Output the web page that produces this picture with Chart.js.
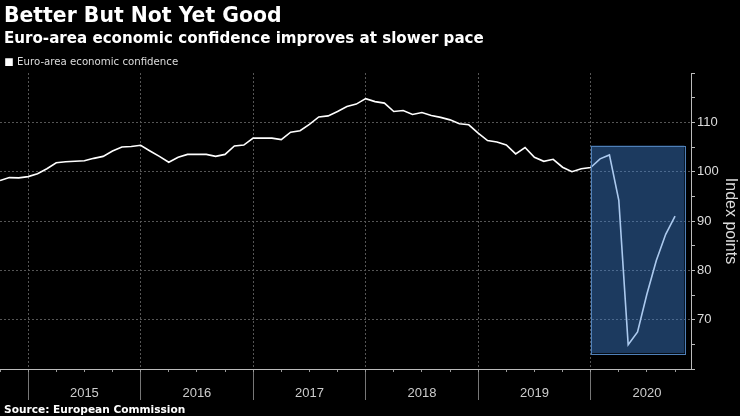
<!DOCTYPE html>
<html><head><meta charset="utf-8">
<script src="https://cdn.jsdelivr.net/npm/chart.js@4.4.1/dist/chart.umd.min.js"></script>
<style>
html,body{margin:0;padding:0;background:#000;width:740px;height:416px;overflow:hidden;}
#wrap{position:relative;width:740px;height:416px;}
#c{position:absolute;left:0;top:0;}
.t{position:absolute;left:4px;color:#fff;font-family:"DejaVu Sans";font-weight:bold;white-space:nowrap;line-height:normal;}
#title{top:3.4px;font-size:20.4px;}
#sub{top:28.7px;font-size:15.1px;}
#src{top:402.5px;font-size:10.6px;color:#fff;}
</style></head>
<body><div id="wrap"><canvas id="c" width="740" height="416"></canvas>
<div class="t" id="title">Better But Not Yet Good</div>
<div class="t" id="sub">Euro-area economic confidence improves at slower pace</div>
<div class="t" id="src">Source: European Commission</div></div>
<script>
// ---- data (monthly, Sep 2014 .. Sep 2020) ----
const startYear = 2014, startMonth = 9;
const confidence = [
  98.2, 98.8, 98.75, 99.0, 99.6, 100.6, 101.8, 102.0, 102.1, 102.2, 102.7, 103.1,
  104.2, 105.0, 105.1, 105.35, 104.2, 103.1, 101.9, 102.9, 103.5, 103.5, 103.5, 103.1,
  103.5, 105.2, 105.4, 106.8, 106.8, 106.8, 106.5, 108.0, 108.3, 109.6, 111.1, 111.3,
  112.2, 113.2, 113.7, 114.8, 114.2, 113.9, 112.2, 112.4, 111.6, 112.0, 111.4, 111.0,
  110.5, 109.7, 109.5, 107.8, 106.3, 106.0, 105.4, 103.6, 104.9, 102.9, 102.1, 102.5,
  100.9, 100.0, 100.6, 100.85, 102.6, 103.4, 94.2, 64.9, 67.5, 75.2, 82.0, 87.3, 91.0
];
const months = [];
for (let i = 0; i < confidence.length; i++) {
  const m = (startMonth - 1 + i) % 12 + 1;
  const y = startYear + Math.floor((startMonth - 1 + i) / 12);
  months.push(y + '-' + String(m).padStart(2, '0'));
}
const yearLabels = ['2015', '2016', '2017', '2018', '2019', '2020'];
const yearStartIdx = [3, 15, 27, 39, 51, 63];   // month index where each year begins
const yearMidIdx = [9, 21, 33, 45, 57, 69];     // label position (mid-year)
const quarterIdx = [0,3,6,9,12,15,18,21,24,27,30,33,36,39,42,45,48,51,54,57,60,63,66,69,72];
const yTickValues = [60,65,70,75,80,85,90,95,100,105,110,115,120];
const yLabelValues = [70, 80, 90, 100, 110];
const xRange = [0, 73.7];
const yRange = [60, 120];
const highlightX = [63, 73];
const highlightY = [63.2, 105.3];

const points = confidence.map((v, i) => ({x: i, y: v, label: months[i]}));

const highlightPlugin = {
  id: 'highlight',
  afterDatasetsDraw(chart) {
    const {ctx, scales: {x, y}} = chart;
    const x0 = x.getPixelForValue(highlightX[0]), x1 = x.getPixelForValue(highlightX[1]);
    const y0 = y.getPixelForValue(highlightY[1]), y1 = y.getPixelForValue(highlightY[0]);
    ctx.save();
    ctx.fillStyle = 'rgba(64,132,216,0.44)';
    ctx.fillRect(x0, y0, x1 - x0, y1 - y0);
    ctx.strokeStyle = '#4f80b8';
    ctx.lineWidth = 1;
    ctx.strokeRect(Math.round(x0) + 0.5, Math.round(y0) + 0.5, Math.round(x1 - x0), Math.round(y1 - y0));
    ctx.restore();
  }
};

const tickFont = {family: 'Liberation Sans', size: 13};

new Chart(document.getElementById('c'), {
  type: 'line',
  data: {
    datasets: [{
      label: 'Euro-area economic confidence',
      data: points,
      borderColor: '#ffffff',
      backgroundColor: '#ffffff',
      borderWidth: 1.6,
      pointRadius: 0,
      tension: 0,
      xAxisID: 'x',
      yAxisID: 'y'
    }]
  },
  options: {
    responsive: false,
    animation: false,
    devicePixelRatio: 1,
    layout: {padding: {top: 51, left: 0, right: 0, bottom: 0}, autoPadding: false},
    plugins: {
      legend: {
        display: true, position: 'top', align: 'start', maxHeight: 22,
        labels: {boxWidth: 6, boxHeight: 6, padding: 6, color: '#dddddd',
                 font: {family: 'DejaVu Sans', size: 10.2}}
      },
      tooltip: {enabled: false}
    },
    scales: {
      xYear: {
        type: 'linear', position: 'bottom', weight: 0,
        min: xRange[0], max: xRange[1],
        afterBuildTicks: s => { s.ticks = yearStartIdx.map(v => ({value: v})); },
        ticks: {display: false, padding: 0},
        grid: {drawOnChartArea: true, color: '#555555', lineWidth: 1, drawTicks: true,
               tickLength: 31, tickColor: '#777777', tickWidth: 1},
        border: {display: false, dash: [2, 2]},
        afterFit: s => { s.height = 0; }
      },
      x: {
        type: 'linear', position: 'bottom', weight: 1,
        min: xRange[0], max: xRange[1],
        afterBuildTicks: s => { s.ticks = quarterIdx.map(v => ({value: v})); },
        ticks: {
          autoSkip: false, maxRotation: 0, color: '#cccccc', padding: 0,
          font: {family: 'Liberation Sans', size: 13, lineHeight: '43px'},
          callback: v => { const k = yearMidIdx.indexOf(v); return k >= 0 ? yearLabels[k] : ''; }
        },
        grid: {drawOnChartArea: false, drawTicks: true, tickLength: 3, tickColor: '#999999', tickWidth: 1},
        border: {display: true, color: '#bbbbbb', width: 1},
        afterFit: s => { s.height = 47; }
      },
      y: {
        type: 'linear', position: 'right',
        min: yRange[0], max: yRange[1],
        afterBuildTicks: s => { s.ticks = yTickValues.map(v => ({value: v})); },
        ticks: {
          autoSkip: false, color: '#dddddd', font: tickFont, padding: 2,
          callback: v => yLabelValues.includes(v) ? String(v) : ''
        },
        grid: {
          color: c => (c.tick && yLabelValues.includes(c.tick.value)) ? '#555555' : 'rgba(0,0,0,0)',
          drawTicks: true, tickLength: 4, tickColor: '#bbbbbb', tickWidth: 1
        },
        border: {display: true, color: '#bbbbbb', width: 1, dash: [2, 2]},
        title: {display: true, text: 'Index points', color: '#dddddd',
                font: {family: 'Liberation Sans', size: 16}, padding: {top: 0, bottom: 0}},
        afterFit: s => { s.width = 49; }
      }
    }
  },
  plugins: [highlightPlugin]
});
</script>
</body></html>
